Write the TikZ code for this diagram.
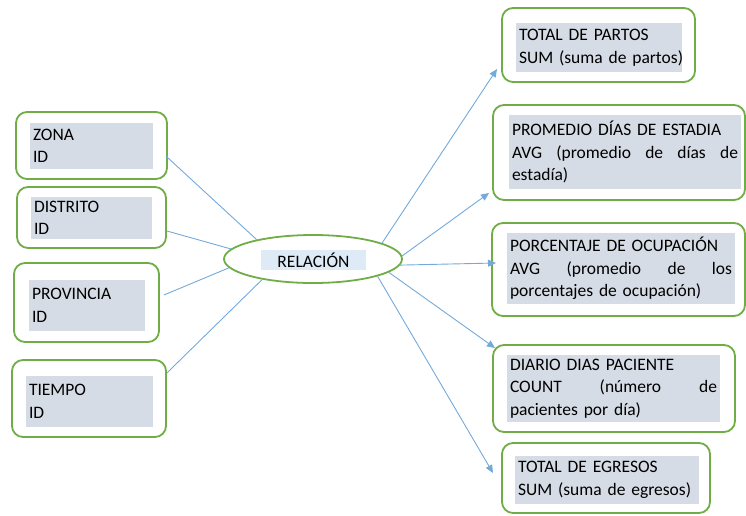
\documentclass[tikz,border=0pt]{standalone}
\usepackage{fontspec}
\setmainfont{Carlito}
\usetikzlibrary{shapes.geometric,arrows.meta}
\definecolor{boxgreen}{HTML}{70AD47}
\definecolor{cellgray}{HTML}{D6DCE5}
\definecolor{linkblue}{HTML}{5B9BD5}
\definecolor{labelblue}{HTML}{DEEBF7}
\begin{document}
\begin{tikzpicture}[x=1pt,y=-1pt,
  frame/.style={draw=boxgreen, line width=1.8pt, rounded corners=11pt, fill=white},
  cell/.style={fill=cellgray, inner xsep=3pt, inner ysep=0pt, align=left, font=\fontsize{17.5}{22.5}\selectfont},
  link/.style={draw=linkblue!85, line width=0.9pt},
  arrow/.style={link, -{Triangle[length=8pt,width=7pt]}}]
\useasboundingbox (0,0) rectangle (746,515);

\node[frame, minimum width=151pt, minimum height=67pt] (zona) at (91.5,145.5) {};
\node[cell, text width=117pt, minimum height=46pt] (zonaT) at (91.5,146) {ZONA\\ID};
\node[frame, minimum width=149pt, minimum height=61pt] (distrito) at (91.5,217.5) {};
\node[cell, text width=115pt, minimum height=42pt] (distritoT) at (91.5,218) {DISTRITO\\ID};
\node[frame, minimum width=145pt, minimum height=79pt] (provincia) at (86.5,302.5) {};
\node[cell, text width=110pt, minimum height=51pt] (provinciaT) at (87,305.5) {PROVINCIA\\ID};
\node[frame, minimum width=154pt, minimum height=77pt] (tiempo) at (89,398.5) {};
\node[cell, text width=121pt, minimum height=51pt] (tiempoT) at (89.5,401.5) {TIEMPO\\ID};

\node[draw=boxgreen, line width=1.8pt, ellipse, inner sep=0pt, minimum width=178pt, minimum height=48pt] (rel) at (313,259) {};
\node[fill=labelblue, minimum width=105pt, minimum height=20pt, inner sep=0pt, font=\fontsize{17.5}{22.5}\selectfont] (relT) at (313.5,260) {RELACIÓN};

\node[frame, minimum width=193pt, minimum height=74pt] (total) at (598.5,45) {};
\node[cell, text width=160pt, minimum height=49pt] (totalT) at (599,47.5) {\mbox{TOTAL DE PARTOS}\\\mbox{SUM (suma de partos)}};
\node[frame, minimum width=252pt, minimum height=95pt] (promedio) at (619,152.5) {};
\node[cell, text width=226pt, minimum height=74pt] (promedioT) at (625,152) {PROMEDIO DÍAS DE ESTADIA\\AVG\hfill (promedio\hfill de\hfill días\hfill de\\estadía)};
\node[frame, minimum width=253pt, minimum height=93pt] (porcentaje) at (618.5,269.5) {};
\node[cell, text width=222pt, minimum height=71pt] (porcentajeT) at (621,268.5) {PORCENTAJE DE OCUPACIÓN\\AVG\hfill (promedio\hfill de\hfill los\\porcentajes de ocupación)};
\node[frame, minimum width=242pt, minimum height=87pt] (diario) at (614,388.5) {};
\node[cell, text width=207pt, minimum height=67pt] (diarioT) at (613.5,388.5) {DIARIO DIAS PACIENTE\\COUNT\hfill (número\hfill de\\pacientes por día)};
\node[frame, minimum width=208pt, minimum height=70pt] (egresos) at (606,478) {};
\node[cell, text width=178pt, minimum height=48pt] (egresosT) at (607,480) {\mbox{TOTAL DE EGRESOS}\\\mbox{SUM (suma de egresos)}};

\coordinate (tip1) at (497,69);
\coordinate (tip2) at (489,193);
\coordinate (tip3) at (496,263);
\coordinate (tip4) at (495,348);
\coordinate (tip5) at (493,473);

\path[link] ([xshift=-2pt,yshift=-10.5pt]zona.east) -- (rel.161);
\path[link] ([yshift=-13.5pt]distrito.east) -- (rel.173);
\path[link] ([xshift=4pt,yshift=7.5pt]provincia.east) -- (rel.186);
\path[link] ([yshift=25.5pt]tiempo.east) -- (rel.202);

\path[arrow] (rel.13) -- (tip1);
\path[arrow] (rel.2) -- (tip2);
\path[arrow] (rel.-4) -- (tip3);
\path[arrow] (rel.-10) -- (tip4);
\path[arrow] (rel.-15) -- (tip5);
\end{tikzpicture}
\end{document}
